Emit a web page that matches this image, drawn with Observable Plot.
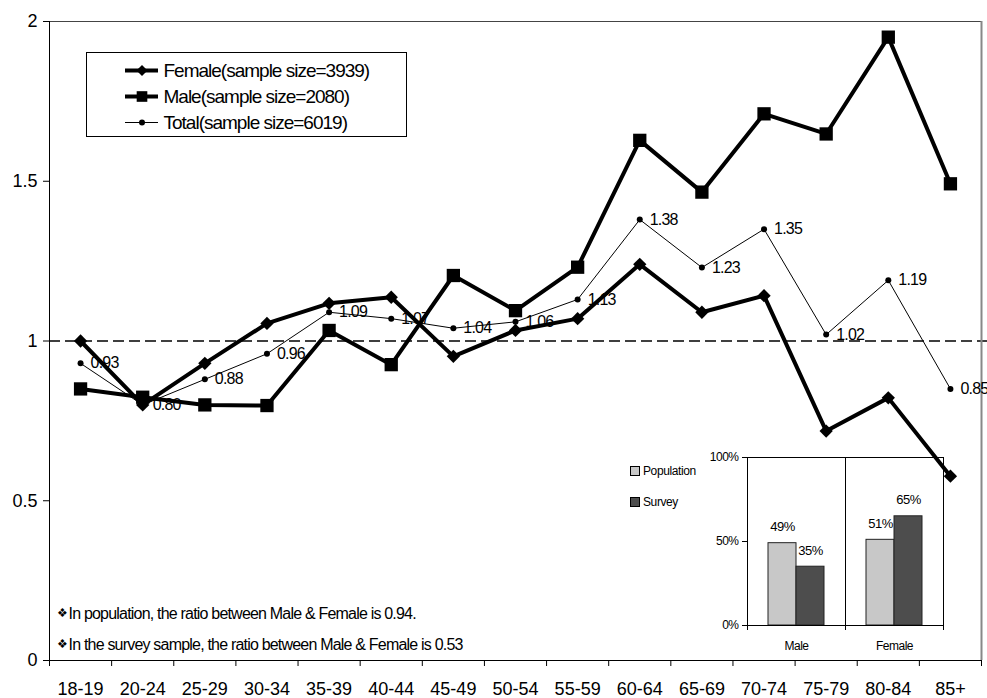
<!DOCTYPE html>
<html><head><meta charset="utf-8">
<script src="https://cdn.jsdelivr.net/npm/d3@7"></script>
<script src="https://cdn.jsdelivr.net/npm/@observablehq/plot@0.6"></script>
<style>
body{margin:0;background:#fff;font-family:"Liberation Sans",Arial,sans-serif;}
#wrap{position:relative;width:987px;height:698px;overflow:hidden;background:#fff;}
#wrap > svg{position:absolute;}
.ilg{position:absolute;font-size:12px;letter-spacing:-0.4px;color:#000;line-height:12px;}
.ilg span{display:inline-block;width:8px;height:8px;border:1px solid #000;vertical-align:-1px;margin-right:3px;}
</style></head><body><div id="wrap"></div>
<script>
const ages = ["18-19","20-24","25-29","30-34","35-39","40-44","45-49","50-54","55-59","60-64","65-69","70-74","75-79","80-84","85+"];
const female = [1.00,0.80,0.93,1.055,1.118,1.137,0.952,1.033,1.07,1.24,1.09,1.142,0.718,0.822,0.577];
const male = [0.85,0.824,0.80,0.798,1.033,0.926,1.205,1.095,1.231,1.628,1.466,1.711,1.648,1.951,1.492];
const total = [0.93,0.80,0.88,0.96,1.09,1.07,1.04,1.06,1.13,1.38,1.23,1.35,1.02,1.19,0.85];
const seriesNames = ["Female(sample size=3939)","Male(sample size=2080)","Total(sample size=6019)"];
const yTicks = [0,0.5,1,1.5,2];
const notes = ["In population, the ratio between Male & Female is 0.94.","In the survey sample, the ratio between Male & Female is 0.53"];
const insetGroups = ["Male","Female"];
const insetTypes = ["Population","Survey"];
const population = [0.49,0.51];
const survey = [0.35,0.65];
const insetTicks = [0,0.5,1];

const font = "'Liberation Sans', Arial, sans-serif";
const rows = ages.map((a,i)=>({age:a, pos:i+0.5, female:female[i], male:male[i], total:total[i]}));
const wrap = document.getElementById("wrap");

// inset bar chart (drawn first, underneath)
const insetData = insetGroups.flatMap((g,i)=>[
  {group:g, type:insetTypes[0], value:population[i]},
  {group:g, type:insetTypes[1], value:survey[i]}
]);
const inset = Plot.plot({
  width:330, height:215, marginLeft:127, marginRight:7, marginTop:12, marginBottom:35,
  style:{fontFamily:font, fontSize:"12px", background:"transparent", color:"#000", overflow:"visible"},
  fx:{domain:insetGroups, padding:0, label:null},
  x:{domain:insetTypes, paddingInner:0, paddingOuter:0.72, axis:null},
  y:{domain:[0,1], label:null},
  color:{domain:insetTypes, range:["#c8c8c8","#4d4d4d"]},
  marks:[
    Plot.barY(insetData,{fx:"group", x:"type", y:"value", fill:"type", stroke:"#222", strokeWidth:1}),
    Plot.text(insetData,{fx:"group", x:"type", y:"value", text:d=>Math.round(d.value*100)+"%", dy:-16, fontSize:13, fill:"#000"}),
    Plot.frame({stroke:"#000"}),
    Plot.frame({anchor:"left", insetBottom:-4, stroke:"#000"}),
    Plot.frame({anchor:"right", insetBottom:-4, stroke:"#000"}),
    Plot.axisFx({anchor:"bottom", tickSize:0, tickPadding:16, fontSize:12, label:null}),
    Plot.axisY({ticks:insetTicks, tickFormat:d3.format(".0%"), tickSize:5, tickPadding:4, fontSize:12, label:null})
  ]
});
inset.style.left = "620px"; inset.style.top = "445px";
d3.select(inset).selectAll("text").attr("letter-spacing","-0.5px");
wrap.appendChild(inset);

// inset legend
insetTypes.forEach((t,i)=>{
  const el = document.createElement("div");
  el.className = "ilg";
  el.style.left = "630px";
  el.style.top = (465 + i*31) + "px";
  el.innerHTML = `<span style="background:${i===0?"#c8c8c8":"#4d4d4d"}"></span>${t}`;
  wrap.appendChild(el);
});

// main chart
const main = Plot.plot({
  width:987, height:698, marginLeft:49, marginRight:6, marginTop:21, marginBottom:38,
  style:{fontFamily:font, background:"transparent", color:"#000", overflow:"visible"},
  x:{domain:[0,ages.length]},
  y:{domain:[0,2]},
  marks:[
    Plot.ruleY([1],{stroke:"#000", strokeWidth:1.3, strokeDasharray:"11,5", insetRight:-8}),
    Plot.ruleY([2],{stroke:"#444"}),
    Plot.ruleX([ages.length],{stroke:"#888", strokeWidth:2}),
    Plot.axisY({ticks:yTicks, tickFormat:d=>String(d), tickSize:6, tickPadding:6, fontSize:18, label:null}),
    Plot.axisX({ticks:d3.range(ages.length+1), tickFormat:()=>"", tickSize:6, label:null}),
    Plot.axisX({ticks:rows.map(d=>d.pos), tickFormat:d=>ages[Math.floor(d)], tickSize:0, tickPadding:22, fontSize:18, label:null}),
    Plot.ruleX([0],{stroke:"#000"}),
    Plot.ruleY([0],{stroke:"#000"}),
    Plot.text(["❖"],{text:d=>d, frameAnchor:"bottom-left", dx:7, dy:-47, textAnchor:"start", lineAnchor:"middle", fontSize:12, fill:"#000"}),
    Plot.text(["❖"],{text:d=>d, frameAnchor:"bottom-left", dx:7, dy:-16, textAnchor:"start", lineAnchor:"middle", fontSize:12, fill:"#000"}),
    Plot.text([notes[0]],{text:d=>d, frameAnchor:"bottom-left", dx:19, dy:-47, textAnchor:"start", lineAnchor:"middle", fontSize:16, fill:"#000"}),
    Plot.text([notes[1]],{text:d=>d, frameAnchor:"bottom-left", dx:19, dy:-16, textAnchor:"start", lineAnchor:"middle", fontSize:16, fill:"#000"}),
    Plot.line(rows,{x:"pos", y:"total", stroke:"#000", strokeWidth:1}),
    Plot.dot(rows,{x:"pos", y:"total", r:3, fill:"#000"}),
    Plot.text(rows,{x:"pos", y:"total", text:d=>d.total.toFixed(2), textAnchor:"start", dx:10, fontSize:16, fill:"#000"}),
    Plot.line(rows,{x:"pos", y:"female", stroke:"#000", strokeWidth:4, strokeLinejoin:"miter"}),
    Plot.dot(rows,{x:"pos", y:"female", symbol:"diamond2", r:6, fill:"#000"}),
    Plot.line(rows,{x:"pos", y:"male", stroke:"#000", strokeWidth:4, strokeLinejoin:"miter"}),
    Plot.dot(rows,{x:"pos", y:"male", symbol:"square", r:7.5, fill:"#000"})
  ]
});
main.style.left = "0px"; main.style.top = "0px";
d3.select(main).selectAll('g[aria-label="text"] text').attr("letter-spacing","-0.8px");
wrap.appendChild(main);

// main legend
const legend = Plot.plot({
  width:319, height:83, marginLeft:38, marginRight:248, marginTop:16, marginBottom:14,
  style:{fontFamily:font, background:"#fff", color:"#000", overflow:"visible"},
  x:{domain:[0,1], axis:null},
  y:{type:"point", domain:seriesNames, padding:0, axis:null},
  marks:[
    Plot.ruleY([seriesNames[0]],{y:d=>d, stroke:"#000", strokeWidth:4}),
    Plot.ruleY([seriesNames[1]],{y:d=>d, stroke:"#000", strokeWidth:4}),
    Plot.ruleY([seriesNames[2]],{y:d=>d, stroke:"#000", strokeWidth:1}),
    Plot.dot([seriesNames[0]],{y:d=>d, symbol:"diamond2", r:5, fill:"#000"}),
    Plot.dot([seriesNames[1]],{y:d=>d, symbol:"square", r:6, fill:"#000"}),
    Plot.dot([seriesNames[2]],{y:d=>d, r:3, fill:"#000"}),
    Plot.text(seriesNames,{y:d=>d, text:d=>d, frameAnchor:"right", textAnchor:"start", dx:5, fontSize:19, fill:"#000"})
  ]
});
legend.style.left = "86px"; legend.style.top = "52px"; legend.style.border = "1px solid #000";
d3.select(legend).selectAll('g[aria-label="text"] text').attr("letter-spacing","-1px");
wrap.appendChild(legend);
</script></body></html>
